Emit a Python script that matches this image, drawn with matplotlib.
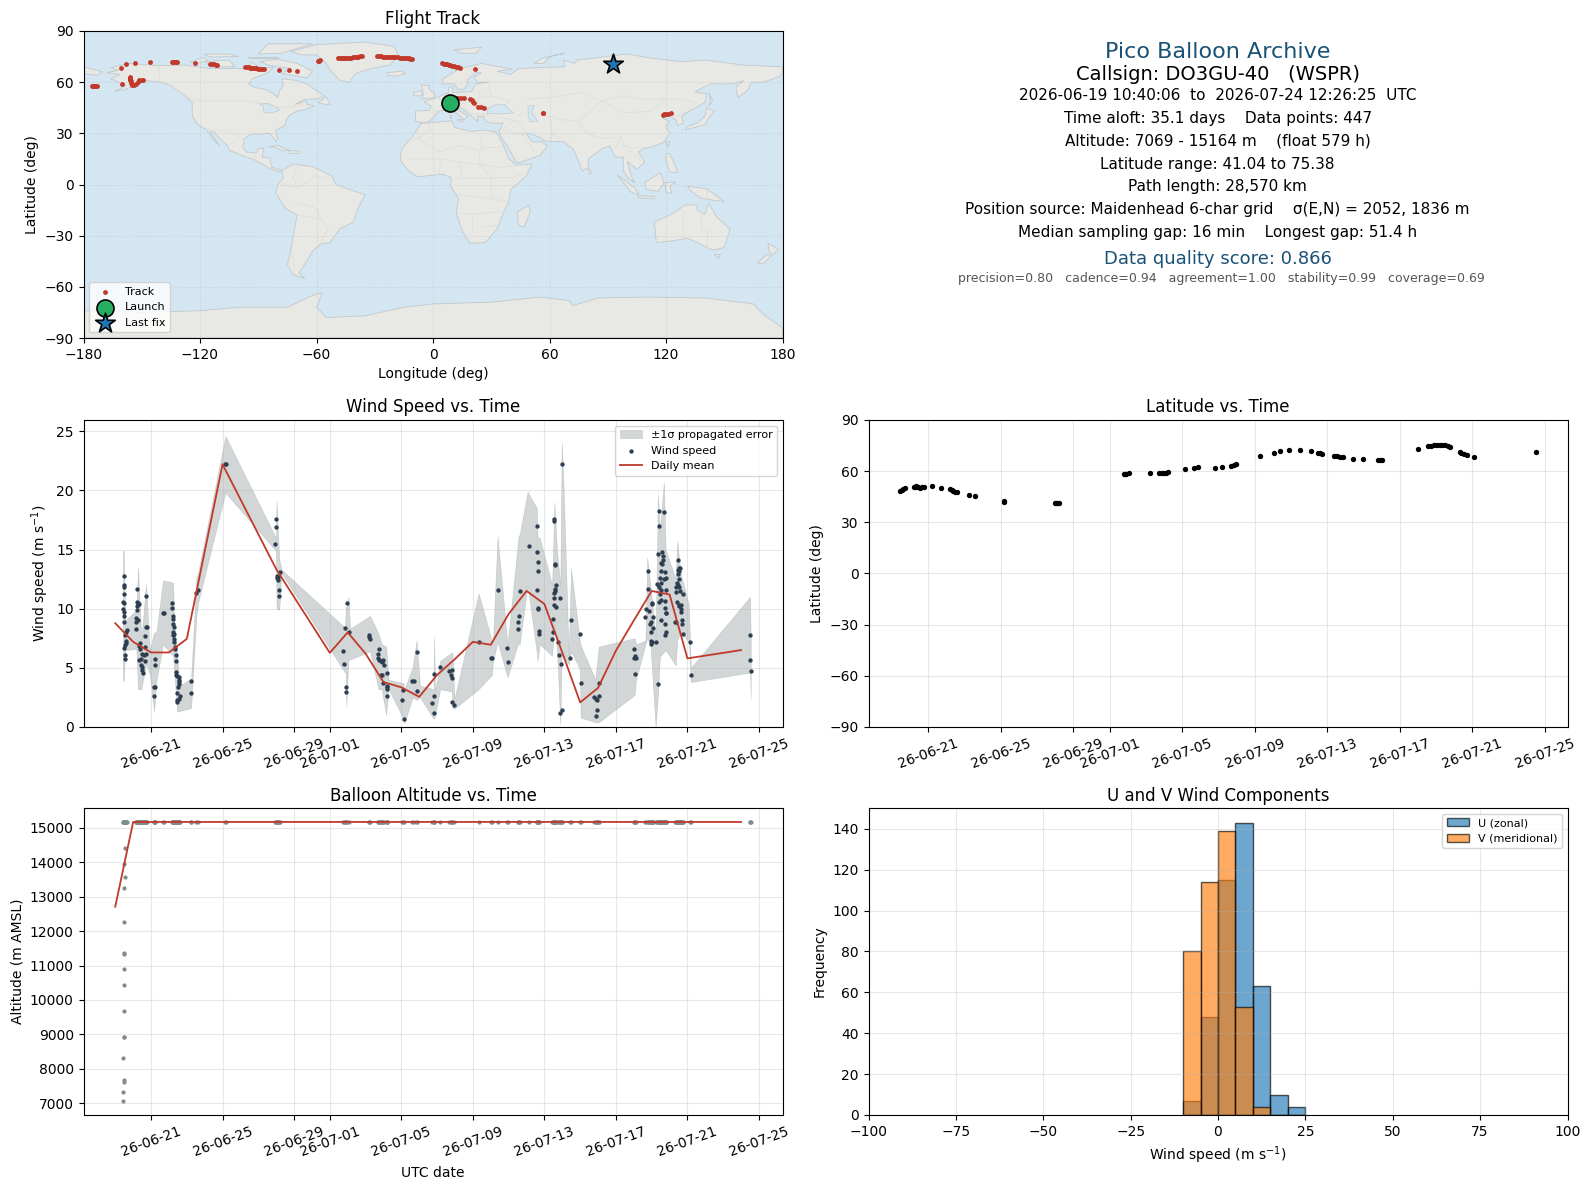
import numpy as np
import matplotlib
matplotlib.use("Agg")
import matplotlib.pyplot as plt
import matplotlib.dates as mdates
from matplotlib.patches import Polygon

# days since 2026-06-19 00:00 UTC
wind_t = [0.47, 0.47, 0.47, 0.47, 0.43, 0.47, 0.43, 0.49, 0.51, 0.51, 0.67, 0.62, 0.56, 0.62, 0.62, 0.56, 0.51, 0.56, 0.56,
          1.22, 1.23, 1.27, 1.33, 1.22, 1.22, 1.14, 1.27, 1.16, 1.14, 1.36, 1.33, 1.40, 1.50, 1.33, 1.46, 1.42, 1.50, 1.50,
          1.55, 1.65, 1.61, 1.66, 1.66, 1.72, 1.78, 1.72, 1.70, 2.22, 2.22, 2.19, 2.24, 2.17, 2.67, 2.73,
          3.18, 3.18, 3.23, 3.23, 3.23, 3.29, 3.23, 3.29, 3.23, 3.29, 3.29, 3.34, 3.34, 3.40, 3.40, 3.40, 3.40, 3.46, 3.57,
          3.57, 3.57, 3.57, 3.51, 3.46, 3.61, 3.57, 3.46, 3.46, 4.24, 4.24, 4.52, 4.63, 6.13, 6.22,
          9.00, 9.00, 8.95, 9.06, 9.11, 9.06, 9.11, 9.21, 9.17, 9.17,
          12.76, 12.81, 12.87, 12.98, 13.09, 12.92, 12.92, 14.21, 14.21, 14.27, 14.77, 14.72, 14.72, 14.77, 14.88, 15.00,
          14.94, 15.05, 14.88, 14.94, 15.17, 15.00, 15.17, 15.22, 15.17, 15.17,
          16.12, 16.06, 16.17, 16.62, 16.68, 16.85, 16.90, 17.80, 17.74, 17.85, 17.85, 18.17, 18.69, 18.86, 18.77, 18.86,
          18.82, 18.92, 20.32, 21.03, 21.08, 21.38, 21.90, 21.94, 22.56, 22.52, 22.50, 22.61, 23.12, 23.57, 23.57, 23.66,
          23.62, 23.57, 23.62, 23.62, 23.68, 23.68, 24.52, 24.52, 24.59, 24.58, 24.63, 24.59, 24.58, 24.54, 24.52, 24.86,
          24.56, 24.67, 24.46, 24.46, 24.41, 24.74, 24.80, 24.91, 24.86, 24.97, 24.97, 25.47, 25.43, 25.98, 26.03, 26.80,
          26.87, 26.95, 27.04, 27.04, 26.93, 26.87, 29.00, 29.00, 29.09, 29.06, 29.11,
          29.79, 29.79, 29.71, 29.84, 29.65, 30.01, 30.01, 30.07, 29.97, 29.93, 30.05, 29.97, 29.95, 29.97, 30.03, 30.22,
          30.40, 30.68, 30.40, 30.35, 30.57, 30.63, 30.63, 30.53, 30.57, 30.53, 30.74, 30.46, 30.79, 30.70, 30.50, 30.29,
          30.40, 30.50, 30.79, 30.46, 30.40, 30.50, 30.74, 30.74, 30.79, 30.79, 30.50, 30.74, 30.79, 30.74, 30.35,
          31.47, 31.52, 31.58, 31.47, 31.52, 31.47, 31.52, 31.43, 31.47, 31.37, 31.52, 31.37, 31.58, 31.75, 31.43, 31.52,
          31.63, 31.52, 31.63, 31.63, 31.69, 31.69, 31.28, 31.35, 31.73, 32.14, 32.19, 35.50, 35.50, 35.54]
wind_v = [12.74, 12.0, 11.87, 11.25, 10.55, 10.5, 10.0, 9.7, 9.4, 8.9, 8.2, 8.0, 7.8, 7.3, 7.1, 6.9, 6.7, 6.1, 5.75,
          11.7, 10.55, 10.5, 10.4, 10.2, 9.85, 9.2, 9.05, 8.9, 8.3, 7.1, 6.86, 6.6, 6.2, 5.7, 5.75, 5.2, 5.05, 4.8,
          4.6, 6.75, 6.1, 5.55, 7.7, 8.45, 8.45, 11.1, 6.2, 5.75, 5.25, 3.4, 3.4, 2.65, 9.65, 9.65,
          10.45, 10.1, 9.35, 9.15, 8.7, 8.45, 8.05, 7.9, 7.75, 7.45, 7.2, 6.75, 6.6, 6.1, 5.55, 4.65, 4.4, 4.3, 4.2,
          4.0, 3.8, 3.6, 3.4, 2.9, 2.6, 2.4, 2.3, 2.1, 3.9, 2.9, 11.3, 11.6, 22.2, 22.2,
          17.6, 16.9, 15.5, 12.8, 12.7, 12.6, 12.45, 13.1, 11.6, 11.1,
          6.45, 5.35, 8.4, 10.5, 8.0, 3.4, 3.0, 7.8, 7.6, 7.45, 6.6, 6.2, 5.85, 5.7, 5.6, 5.7,
          5.5, 5.2, 4.4, 4.4, 4.6, 3.75, 3.5, 3.35, 3.2, 2.65,
          3.15, 2.3, 0.7, 3.9, 3.9, 6.3, 3.05, 2.64, 2.0, 1.2, 4.5, 5.1, 4.7, 4.8, 4.4, 4.1,
          2.1, 1.9, 7.2, 5.85, 5.85, 11.6, 6.7, 5.5, 9.4, 8.9, 8.3, 11.5, 15.3, 17.0, 14.8, 13.95,
          13.2, 11.6, 10.1, 10.0, 8.1, 7.9, 17.6, 17.4, 13.75, 13.7, 12.0, 11.7, 11.5, 11.3, 10.9, 10.9,
          10.35, 10.15, 9.1, 8.0, 7.4, 7.2, 6.1, 5.3, 1.2, 1.4, 22.2, 9.05, 5.8, 7.9, 3.75, 2.5,
          2.4, 2.3, 3.75, 2.65, 1.45, 0.9, 6.6, 5.85, 6.0, 4.5, 5.8,
          13.2, 11.7, 10.0, 9.8, 9.3, 10.5, 10.4, 9.3, 8.85, 8.7, 8.4, 8.0, 7.3, 7.0, 7.2, 7.2,
          18.3, 18.2, 17.0, 14.6, 14.8, 14.45, 14.1, 13.9, 13.8, 13.2, 13.1, 12.6, 12.6, 12.5, 12.2, 12.1,
          11.8, 11.6, 11.6, 11.2, 10.6, 10.7, 10.65, 10.1, 9.65, 9.6, 9.05, 8.7, 8.0, 7.8, 3.6,
          14.1, 13.4, 13.4, 13.3, 13.2, 12.9, 12.5, 12.2, 12.0, 11.8, 11.8, 11.4, 11.5, 11.2, 10.6, 10.3,
          10.3, 10.25, 10.0, 9.7, 9.05, 8.7, 8.9, 8.9, 7.9, 7.2, 4.4, 7.8, 5.7, 4.7]

band_t = [0.43, 0.47, 0.56, 1.18, 1.27, 1.46, 1.72, 1.93, 2.17, 2.30, 2.67, 3.23, 3.33, 3.46, 3.61, 4.24, 4.54, 4.63,
          6.16, 8.98, 9.02, 9.17, 9.30, 12.85, 12.89, 12.92, 13.04, 13.13, 14.25, 14.72, 14.90, 15.15, 15.28, 16.12,
          16.17, 16.62, 16.85, 17.05, 17.80, 17.83, 17.89, 18.17, 18.82, 18.86, 18.97, 20.32, 21.06, 21.12, 21.38,
          21.94, 22.56, 22.61, 23.06, 23.57, 23.62, 23.74, 24.43, 24.56, 24.71, 24.89, 24.97, 25.08, 25.36, 25.49,
          25.98, 26.03, 26.85, 27.04, 29.04, 29.13, 29.65, 29.75, 29.93, 30.22, 30.35, 30.46, 30.68, 30.78, 31.34,
          31.43, 31.62, 32.08, 32.19, 35.50, 35.54]
band_hi = [14.9, 14.9, 9.0, 9.9, 13.5, 7.5, 12.1, 6.5, 8.0, 8.0, 12.4, 12.2, 8.0, 6.0, 3.5, 4.1, 12.7, 13.0,
           24.6, 16.0, 19.1, 14.2, 13.3, 8.4, 10.2, 10.0, 11.0, 8.3, 9.4, 7.9, 7.0, 6.8, 4.0, 3.7,
           3.2, 5.0, 7.3, 3.5, 3.2, 7.6, 3.0, 5.6, 6.3, 6.3, 2.4, 11.3, 7.3, 7.2, 16.1,
           7.0, 16.2, 16.2, 19.9, 18.5, 16.0, 16.0, 12.0, 19.0, 14.8, 12.0, 24.1, 20.0, 6.0, 13.4,
           7.3, 6.9, 4.0, 6.8, 7.5, 7.0, 7.3, 14.3, 12.0, 7.5, 19.7, 16.5, 20.7, 15.0, 12.5,
           15.7, 13.0, 10.3, 5.0, 11.0, 7.5]
band_lo = [3.9, 3.9, 6.5, 6.6, 3.2, 3.2, 5.4, 4.5, 1.3, 3.9, 7.0, 6.0, 4.0, 1.3, 1.35, 1.6, 9.5, 10.5,
           19.8, 14.9, 10.0, 9.9, 13.0, 4.6, 4.6, 1.7, 5.7, 5.7, 6.4, 3.2, 3.2, 1.0, 3.2, 0.7,
           0.3, 2.5, 2.3, 2.5, 0.7, 0.7, 1.0, 3.2, 3.0, 1.6, 1.55, 3.2, 4.4, 5.5, 7.2,
           4.2, 7.2, 6.9, 12.0, 6.3, 5.6, 7.0, 6.0, 8.7, 6.4, 0.2, 6.3, 6.0, 5.3, 6.4,
           4.9, 0.8, 0.4, 0.4, 2.7, 4.0, 7.0, 7.5, 7.0, 0.0, 2.7, 6.0, 6.3, 6.5, 5.2,
           7.4, 8.0, 7.2, 3.8, 4.6, 2.4]

mean_t = [0, 1, 2, 3, 4, 6, 9, 12, 13, 14, 15, 16, 17, 18, 19, 20, 21, 22, 23, 24, 25, 26, 27, 28, 29, 30, 31, 32, 35]
mean_wind = [8.77, 7.2, 6.3, 6.3, 7.45, 22.2, 13.35, 6.27, 8.0, 6.2, 3.8, 3.35, 2.55, 4.4, 5.75, 7.2, 6.95, 9.55, 11.5,
             10.4, 6.3, 2.08, 3.3, 6.45, 9.0, 11.5, 11.2, 5.8, 6.5]
mean_alt = [12708, 15164, 15164, 15164, 15164, 15164, 15164, 15164, 15164, 15164, 15164, 15164, 15164, 15164, 15164,
            15164, 15164, 15164, 15164, 15164, 15164, 15164, 15164, 15164, 15164, 15164, 15164, 15164, 15164]

climb_t = [0.43, 0.43, 0.47, 0.47, 0.43, 0.47, 0.47, 0.47, 0.47, 0.49, 0.47, 0.51, 0.47, 0.51, 0.56, 0.51, 0.56]
climb_alt = [7069, 7320, 7630, 7690, 8310, 8917, 8917, 9670, 10425, 10890, 11355, 11340, 12250, 13240, 13560, 13935, 14400]
float_alt = 15164

lat_t = [0.46, 0.55, 0.62, 0.74, 1.20, 1.25, 1.31, 1.42, 1.54, 1.66, 1.77, 2.23, 2.71, 3.22, 3.30, 3.38, 3.50, 3.61,
         4.23, 4.60, 6.16, 6.20, 9.00, 9.05, 9.12, 9.20, 12.77, 12.85, 12.93, 13.09, 14.23, 14.70, 14.90, 15.00, 15.10,
         15.20, 16.14, 16.65, 16.88, 17.80, 18.20, 18.70, 18.85, 19.00, 20.30, 21.07, 21.40, 21.90, 22.50, 23.10,
         23.50, 23.60, 23.70, 24.40, 24.55, 24.70, 24.90, 25.40, 26.00, 26.80, 26.90, 27.00, 29.00, 29.55, 29.70,
         29.90, 30.05, 30.20, 30.35, 30.50, 30.65, 30.75, 31.30, 31.40, 31.55, 31.70, 32.10, 35.50]
lat_deg = [48.3, 48.9, 49.5, 50.0, 50.6, 50.9, 51.2, 50.7, 50.4, 50.6, 51.0, 51.2, 50.4, 49.5, 49.0, 48.5, 48.0, 47.5,
           45.9, 45.4, 42.3, 42.2, 41.1, 41.1, 41.1, 41.2, 58.2, 58.3, 58.4, 58.8, 58.8, 58.8, 59.2, 59.2, 59.2,
           59.4, 61.2, 61.6, 62.3, 61.6, 62.3, 63.1, 63.6, 64.1, 68.8, 70.5, 71.7, 72.3, 72.3, 71.7,
           70.7, 70.5, 70.3, 69.0, 69.0, 68.5, 68.2, 67.4, 67.0, 66.4, 66.3, 66.4, 72.9, 74.8, 75.0,
           75.4, 75.6, 75.6, 75.6, 75.6, 75.0, 74.0, 71.3, 70.9, 70.1, 69.4, 68.2, 71.1]

track_lon = [11.8, 13.0, 14.2, 16.1, 19.0, 20.1, 20.5, 20.9, 23.3, 24.5, 26.1, 56.6, 56.8, 118.4, 119.2, 120.0, 121.0, 122.5,
             -175.7, -175.0, -174.7, -174.0, -173.3, -160.0, -160.8, -158.0, -153.6, -156.0, -156.0, -156.0, -156.2, -155.5,
             -155.5, -154.8, -154.0, -153.0, -152.0, -151.2, -150.0, -149.3, -145.7, -134.5, -133.8, -133.3, -132.5, -132.0,
             -122.7, -114.8, -113.8, -112.9, -112.0, -111.0, -96.6, -95.8, -95.0, -94.3, -93.7, -93.0, -92.5, -91.8, -91.3,
             -90.0, -88.9, -88.0, -87.2, -79.1, -74.0, -70.0, -59.4, -58.8, -58.2, -48.9, -48.0, -47.0, -46.3, -45.8, -45.0,
             -44.0, -43.0, -42.2, -41.0, -40.0, -39.3, -38.6, -37.6, -36.7, -29.0, -28.0, -27.0, -26.0, -25.0, -24.2, -23.0,
             -22.0, -21.0, -20.0, -19.4, -18.2, -17.0, -16.0, -15.0, -14.6, -13.5, -12.5, -11.7, -11.0, 4.6, 5.5, 6.5, 7.4,
             8.2, 9.0, 10.0, 11.0, 12.0, 12.8, 13.7, 21.8]
track_lat = [50.6, 50.6, 50.6, 50.6, 50.4, 49.6, 48.6, 47.6, 45.3, 45.2, 44.7, 41.8, 41.9, 41.0, 41.1, 41.1, 41.4, 41.8,
             57.6, 57.7, 57.8, 57.9, 58.0, 58.8, 68.1, 70.5, 71.1, 63.3, 62.5, 61.7, 61.0, 60.7,
             59.5, 58.4, 58.6, 58.8, 60.0, 61.3, 61.5, 61.3, 71.6, 71.6, 71.6, 71.6, 71.6, 71.6,
             71.0, 70.7, 70.7, 70.5, 70.3, 70.1, 68.7, 68.6, 68.6, 68.5, 68.5, 68.3, 68.3, 68.2, 68.1,
             67.9, 67.7, 67.6, 67.5, 67.0, 67.0, 66.4, 72.4, 72.6, 72.8, 74.2, 74.3, 74.3, 74.3, 74.4, 74.4,
             74.4, 74.4, 74.4, 74.5, 74.6, 74.7, 74.8, 75.1, 75.4, 75.4, 75.3, 75.2, 75.0, 74.9, 74.8, 74.7,
             74.7, 74.6, 74.6, 74.6, 74.5, 74.4, 74.4, 74.4, 74.4, 74.2, 74.0, 73.7, 73.4, 71.0, 70.8, 70.6, 70.4,
             70.3, 70.0, 69.7, 69.4, 69.1, 68.8, 68.5, 67.5]
launch = (8.9, 47.8)
last_fix = (92.8, 70.9)

hist_bins = [-10, -5, 0, 5, 10, 15, 20, 25]
u_counts = [7, 48, 115, 143, 63, 10, 4]
v_counts = [80, 114, 139, 53, 4, 0, 0]

# base map outlines (lon, lat)
north_america = [(-168, 65.5), (-162, 67), (-166, 68.5), (-157, 71), (-141, 69.7), (-128, 70), (-115, 68), (-108, 68),
                 (-95, 68), (-94, 72), (-88, 68), (-82, 69), (-85, 65.5), (-93, 62), (-95, 59), (-92, 57), (-85, 55.3),
                 (-82, 53), (-80, 51), (-79, 55), (-77, 58), (-78, 62), (-70, 61), (-65, 59), (-60, 55), (-56, 52),
                 (-60, 50), (-66, 50), (-71, 47), (-65, 49), (-65, 47), (-61, 46), (-66, 44), (-70, 43), (-74, 40.5),
                 (-76, 37), (-76, 35), (-81, 31.5), (-80, 27), (-80.5, 25), (-82, 27), (-84, 30), (-90, 29.5),
                 (-94, 29.5), (-97, 27), (-98, 22), (-96, 19), (-91, 18.5), (-90, 21), (-87, 21.5), (-88, 16), (-84, 15.5),
                 (-83, 10), (-80, 9), (-77, 8), (-80, 7.5), (-85, 10), (-92, 14.5), (-96, 16), (-105, 20), (-106, 23),
                 (-109, 26), (-113, 31), (-115, 31), (-110, 23), (-112, 25), (-117, 32.5), (-121, 35), (-124, 40),
                 (-124, 48), (-130, 54), (-135, 58), (-140, 60), (-148, 61), (-152, 59), (-158, 56), (-164, 54.5),
                 (-158, 58), (-162, 60), (-166, 62), (-161, 64.5)]
greenland = [(-73, 78), (-60, 82), (-35, 83.5), (-20, 81), (-18, 76), (-22, 70), (-32, 68), (-40, 65), (-43, 60),
             (-48, 61), (-53, 67), (-55, 71), (-60, 76), (-68, 76)]
south_america = [(-78, 8), (-72, 12), (-62, 10.5), (-52, 5), (-50, 0), (-44, -2.5), (-35, -6), (-39, -15), (-41, -22),
                 (-48, -26), (-53, -34), (-58, -35), (-62, -39), (-65, -45), (-69, -52), (-66, -55), (-72, -53),
                 (-75, -47), (-73, -37), (-70, -18), (-76, -14), (-81, -5), (-80, 0), (-77, 4)]
africa = [(-6, 35.8), (10, 37.3), (11, 33.5), (20, 31), (25, 32), (32, 31), (34, 28), (37, 21), (39, 15), (43, 11.5),
          (51, 12), (48, 5), (40, -3), (39, -10), (35, -20), (33, -26), (27, -34), (19, -34.5), (15, -27), (12, -17),
          (13, -8), (9, -1), (9.5, 4), (5, 6), (-4, 5), (-8, 4.5), (-13, 8.5), (-17, 14.5), (-16, 21), (-10, 29)]
eurasia = [(-9, 37), (-9, 43), (-2, 43.5), (-1, 46), (-4.5, 48.5), (2, 51), (8, 54), (8, 57), (10.5, 57.5), (10, 54),
           (20, 54.5), (22, 59), (29, 60), (23, 60), (21, 63), (25, 65.5), (22, 65.8), (17.5, 61), (18, 59), (16, 56),
           (13, 55.5), (11, 59), (5, 59), (5, 62), (14, 68), (25, 71), (41, 67.5), (33, 66.5), (40, 64.5), (44, 68),
           (54, 68.5), (68, 69), (67, 73), (73, 71), (74, 73), (82, 74), (100, 76.5), (113, 74), (128, 72), (140, 73),
           (160, 70), (180, 69), (180, 65), (178, 63), (170, 60), (164, 60), (162, 55), (157, 51), (156, 57), (160, 61),
           (155, 59), (143, 59), (135, 54.5), (141, 53), (140, 48), (132, 43), (128, 40), (129, 36), (126, 34.5),
           (125, 38), (122, 40), (118, 39), (122, 37), (120, 34), (122, 30), (119, 25), (113, 22), (108, 21), (106, 19),
           (109, 13), (105, 9), (100, 13.5), (103, 2), (104, 1.3), (101, 3), (98, 8), (98, 16), (94, 16), (91, 22.5),
           (87, 21), (80, 15), (80, 10), (77, 8), (73, 19), (72, 21), (67, 25), (57, 25.5), (56, 27), (50, 30), (48, 30),
           (51, 25), (56, 25), (59, 22.5), (55, 17), (45, 13), (43, 13), (39, 21), (35, 28), (34, 31), (36, 36), (30, 36),
           (27, 37), (26, 40), (23, 40), (23, 37), (20, 40), (14, 45), (12.5, 44), (18, 40), (16, 38), (12, 42), (8, 44),
           (3, 43), (0, 39), (-2, 37), (-5, 36)]
chukotka = [(-180, 69), (-170, 66), (-173, 64), (-180, 65)]
australia = [(114, -22), (122, -18), (130, -12), (136, -12), (136, -15), (140, -17.5), (142, -11), (146, -19), (153, -26),
             (150, -37), (144, -38.5), (138, -35), (131, -31.5), (124, -33), (115, -34)]
antarctica = [(-180, -74), (-150, -75), (-120, -74), (-100, -72), (-75, -72), (-62, -65), (-57, -63.5), (-60, -72),
              (-55, -78), (-35, -77), (-15, -72), (0, -70), (30, -69), (55, -66), (70, -68), (72, -71), (85, -66.5),
              (110, -66), (140, -66.5), (165, -70), (170, -76), (180, -84), (180, -90), (-180, -90)]
islands = [
    [(-80, 73.5), (-70, 71), (-62, 66.5), (-65, 62.5), (-72, 64), (-78, 65), (-73, 68), (-85, 70), (-89, 72)],
    [(-117, 72), (-105, 73), (-102, 69), (-115, 69)],
    [(-90, 76.5), (-78, 77), (-62, 82.5), (-85, 82.5)],
    [(-125, 72), (-118, 74.5), (-116, 72.5), (-122, 71)],
    [(-96, 75), (-80, 75), (-80, 74), (-95, 74)],
    [(-118, 76.5), (-105, 76.5), (-100, 75), (-115, 74.8)],
    [(-59, 48), (-55, 51.5), (-53, 47), (-56, 47)],
    [(-85, 22), (-80, 23), (-74, 20), (-78, 20), (-82, 22)],
    [(-74, 20), (-69, 19.5), (-69, 18.3), (-74, 18)],
    [(-24, 65.5), (-16, 66.5), (-14, 65), (-19, 63.5), (-23, 64)],
    [(-6, 50), (1, 51), (1, 53), (-2, 56), (-2, 58), (-6, 58.5), (-5, 54), (-5, 52)],
    [(-10, 52), (-6, 52), (-6, 55), (-10, 54)],
    [(11, 79), (25, 80.5), (22, 77), (15, 76.8)],
    [(52, 71), (56, 74), (68, 77), (60, 75), (57, 71)],
    [(43.5, -16), (49.5, -12), (50, -16), (47, -25), (44, -24)],
    [(80, 9.5), (82, 7), (80.5, 6)],
    [(95, 5.5), (104, -2), (106, -6), (102, -4.5)],
    [(105.5, -6.5), (114, -7), (114, -8.5), (106, -7.8)],
    [(109, 1), (117, 7), (119, 1), (116, -4), (110, -3)],
    [(119.5, 1), (125, 1.5), (122, -1), (123, -5), (120, -5)],
    [(131, -1), (141, -2.5), (150, -10), (143, -9), (138, -8), (133, -4)],
    [(120, 18), (122, 18), (124, 13), (126, 7), (122, 7), (120, 14)],
    [(130, 32), (131, 34), (136, 36), (140, 40), (141, 45), (145, 43), (142, 39), (140, 35), (135, 33.5)],
    [(142, 54), (143, 50), (142, 46), (144, 49)],
    [(120, 25), (122, 25), (121, 22)],
    [(145, -41), (148, -41), (147, -43.5)],
    [(172.5, -34.5), (178, -38), (175, -41.5), (173, -39)],
    [(172, -41), (174, -42), (170, -46.5), (167, -46)],
    [(8.5, 41), (9.5, 41), (9.5, 39), (8.5, 39)],
    [(12.5, 38), (15.5, 38), (15, 36.7)],
]
water = [
    [(28, 41.5), (28, 44), (31, 46.5), (37, 47), (39, 44), (41.5, 42), (36, 41.5)],
    [(49, 46), (52, 46.5), (51, 42), (54, 37), (50, 37), (49, 40)],
    [(-90, 47.5), (-85, 47.5), (-80, 45), (-79, 43.5), (-83, 42), (-87, 42), (-87.5, 46)],
]
borders = [
    [(-141, 69.7), (-141, 60)], [(-135, 58), (-123, 49), (-95, 49), (-83, 46), (-75, 45), (-67, 47)],
    [(-117, 32.5), (-106, 31.5), (-97, 26)], [(-92, 14.5), (-91, 18)],
    [(-70, -18), (-58, -20), (-54, -26), (-58, -34)], [(-72, -10), (-60, -14), (-58, -20)],
    [(-70, -2), (-60, 5), (-52, 3)], [(-73, -37), (-71, -52)], [(-70, 11), (-72, 5), (-70, -2), (-75, -1), (-78, 1.5)],
    [(-8, 27), (-1, 32), (-2, 35)], [(-13, 27), (-8, 27), (4, 19), (12, 23), (25, 20), (25, 31.5)], [(25, 22), (36, 22)],
    [(-12, 15), (4, 15), (14, 13), (24, 12), (34, 10), (43, 11)], [(3, 6), (4, 15)], [(14, 13), (15, 4), (9.5, 2)],
    [(24, 20), (24, 12), (30, 4), (41, 4), (48, 8)], [(15, 4), (30, 4)], [(12, -6), (30, -8), (40, -10.5)],
    [(12, -17), (24, -17), (35, -16)], [(20, -28), (20, -18)], [(25, -25), (33, -24)], [(30, 4), (30, -8)],
    [(2, 51), (6, 49), (8, 47.5), (7, 44)], [(-2, 43.5), (3, 42.5)], [(8, 54.5), (6, 50)], [(14, 54), (15, 50), (23, 49), (24, 54)],
    [(8, 47.5), (13, 47), (17, 48), (23, 48), (29, 45)], [(13, 47), (19, 42), (23, 41)], [(23, 41), (27, 42)],
    [(28, 60), (30, 52), (24, 51)], [(30, 52), (40, 49), (38, 47)], [(26, 41), (44, 37), (48, 30)], [(36, 33), (42, 37)],
    [(44, 40), (47, 42)], [(40, 30), (48, 30)], [(36, 32), (47, 29), (52, 19)], [(61, 37), (61, 26)], [(47, 50), (61, 51), (77, 54), (87, 49)],
    [(53, 42), (66, 38), (75, 37), (80, 42), (87, 49)], [(87, 49), (98, 52), (107, 50), (120, 50), (127, 50), (135, 48), (131, 43)],
    [(87, 49), (98, 42), (112, 43), (120, 50)], [(61, 30), (70, 24)], [(75, 37), (79, 30), (88, 27), (97, 28), (94, 22)],
    [(97, 28), (98, 23), (102, 21), (106, 22)], [(100, 20), (105, 17), (107, 14)], [(125, 40), (130, 42.5)],
    [(141, -3), (141, -9)], [(129, -15), (129, -31)], [(138, -16), (138, -26), (141, -26), (141, -38)],
]


def px_rect(left, top, right, bottom):
    # axes rectangle from pixel edges measured on the 1589x1189 picture
    return [left / 1589, 1 - bottom / 1189, (right - left) / 1589, (bottom - top) / 1189]


def to_dates(days):
    return mdates.date2num(np.datetime64("2026-06-19T00:00:00")) + np.asarray(days, dtype=float)


def date_axis(ax):
    ax.xaxis_date()
    ax.xaxis.set_major_formatter(mdates.DateFormatter("%y-%m-%d"))
    ax.tick_params(axis="x", rotation=20)
    ax.grid(True, alpha=0.3)


fig = plt.figure(figsize=(15.89, 11.89), dpi=100)

# flight track map
ax_map = fig.add_axes(px_rect(83.5, 31, 782.5, 338))
ax_map.set_facecolor("#d4e6f1")
land = [north_america, greenland, south_america, africa, eurasia, chukotka, australia, antarctica] + islands
for outline in land:
    ax_map.add_patch(Polygon(outline, closed=True, fc="#e8e8e4", ec="#c2c9cc", lw=0.6, zorder=1))
for outline in water:
    ax_map.add_patch(Polygon(outline, closed=True, fc="#d4e6f1", ec="#c2c9cc", lw=0.5, zorder=1.1))
for line in borders:
    ax_map.plot([p[0] for p in line], [p[1] for p in line], color="#dcdcd8", lw=0.5, zorder=1.2)
ax_map.scatter(track_lon, track_lat, s=6, color="#c0392b", label="Track", zorder=3)
ax_map.scatter(*launch, s=150, color="#27ae60", edgecolors="black", linewidths=1.2, label="Launch", zorder=4)
ax_map.scatter(*last_fix, s=220, marker="*", color="#1f77b4", edgecolors="black", linewidths=1.2, label="Last fix", zorder=5)
ax_map.set_xlim(-180, 180)
ax_map.set_ylim(-90, 90)
ax_map.set_xticks(np.arange(-180, 181, 60))
ax_map.set_yticks(np.arange(-90, 91, 30))
ax_map.grid(True, color="#a0a8a8", alpha=0.25, lw=0.5, ls="--")
ax_map.set_xlabel("Longitude (deg)")
ax_map.set_ylabel("Latitude (deg)")
ax_map.set_title("Flight Track", pad=5.3)
ax_map.legend(loc="lower left", fontsize=8)

# summary text
info_x = 1218 / 1589
info = [
    (52, "Pico Balloon Archive", 16, "#1a5276", 0),
    (74, "Callsign: DO3GU-40   (WSPR)", 14, "black", 0),
    (95.5, "2026-06-19 10:40:06  to  2026-07-24 12:26:25  UTC", 11, "black", 0),
    (118.5, "Time aloft: 35.1 days    Data points: 447", 11, "black", 0),
    (141.5, "Altitude: 7069 - 15164 m    (float 579 h)", 11, "black", 0),
    (164, "Latitude range: 41.04 to 75.38", 11, "black", -1),
    (187, "Path length: 28,570 km", 11, "black", -1),
    (209.5, "Position source: Maidenhead 6-char grid    σ(E,N) = 2052, 1836 m", 11, "black", -1),
    (232.5, "Median sampling gap: 16 min    Longest gap: 51.4 h", 11, "black", 0),
    (258.5, "Data quality score: 0.866", 13, "#1a5276", 0),
    (278.5, "precision=0.80   cadence=0.94   agreement=1.00   stability=0.99   coverage=0.69", 9, "#555555", 3),
]
for y_px, text, size, colour, nudge in info:
    fig.text(info_x + nudge / 1589, 1 - y_px / 1189, text, ha="center", va="center", fontsize=size, color=colour)

# wind speed
ax_wind = fig.add_axes(px_rect(83.5, 420, 782.5, 727))
ax_wind.fill_between(to_dates(band_t), band_lo, band_hi, color="#7f8c8d", alpha=0.35, lw=0.4, label="±1σ propagated error")
ax_wind.scatter(to_dates(wind_t), wind_v, s=4.5, color="#2c3e50", label="Wind speed", zorder=3)
ax_wind.plot(to_dates(mean_t), mean_wind, color="#c0392b", lw=1.3, label="Daily mean", zorder=4)
date_axis(ax_wind)
ax_wind.set_ylim(0, 25.95)
ax_wind.set_ylabel("Wind speed (m s$^{-1}$)")
ax_wind.set_title("Wind Speed vs. Time")
ax_wind.legend(loc="upper right", fontsize=8)

# latitude
ax_lat = fig.add_axes(px_rect(868.5, 420, 1567.5, 727))
ax_lat.scatter(to_dates(lat_t), lat_deg, s=8, color="black", zorder=3)
date_axis(ax_lat)
ax_lat.set_ylim(-90, 90)
ax_lat.set_yticks(np.arange(-90, 91, 30))
ax_lat.set_ylabel("Latitude (deg)")
ax_lat.set_title("Latitude vs. Time")

# altitude
ax_alt = fig.add_axes(px_rect(83.5, 808, 782.5, 1115))
ax_alt.scatter(to_dates(climb_t + wind_t), climb_alt + [float_alt] * len(wind_t), s=4, color="#7f8c8d", zorder=3)
ax_alt.plot(to_dates(mean_t), mean_alt, color="#c0392b", lw=1.3, zorder=4)
date_axis(ax_alt)
ax_alt.set_yticks(np.arange(7000, 15001, 1000))
ax_alt.set_xlabel("UTC date", labelpad=5)
ax_alt.set_ylabel("Altitude (m AMSL)")
ax_alt.set_title("Balloon Altitude vs. Time", pad=5.3)

# U and V histogram
ax_hist = fig.add_axes(px_rect(868.5, 808, 1567.5, 1115))
ax_hist.hist(hist_bins[:-1], bins=hist_bins, weights=u_counts, color="#1f77b4", alpha=0.65, edgecolor="black", label="U (zonal)")
ax_hist.hist(hist_bins[:-1], bins=hist_bins, weights=v_counts, color="#ff7f0e", alpha=0.65, edgecolor="black", label="V (meridional)")
ax_hist.set_xlim(-100, 100)
ax_hist.grid(True, alpha=0.3)
ax_hist.set_xlabel("Wind speed (m s$^{-1}$)")
ax_hist.set_ylabel("Frequency")
ax_hist.set_title("U and V Wind Components", pad=5.3)
ax_hist.legend(loc="upper right", fontsize=8)

fig.savefig("out.png", dpi=100)
